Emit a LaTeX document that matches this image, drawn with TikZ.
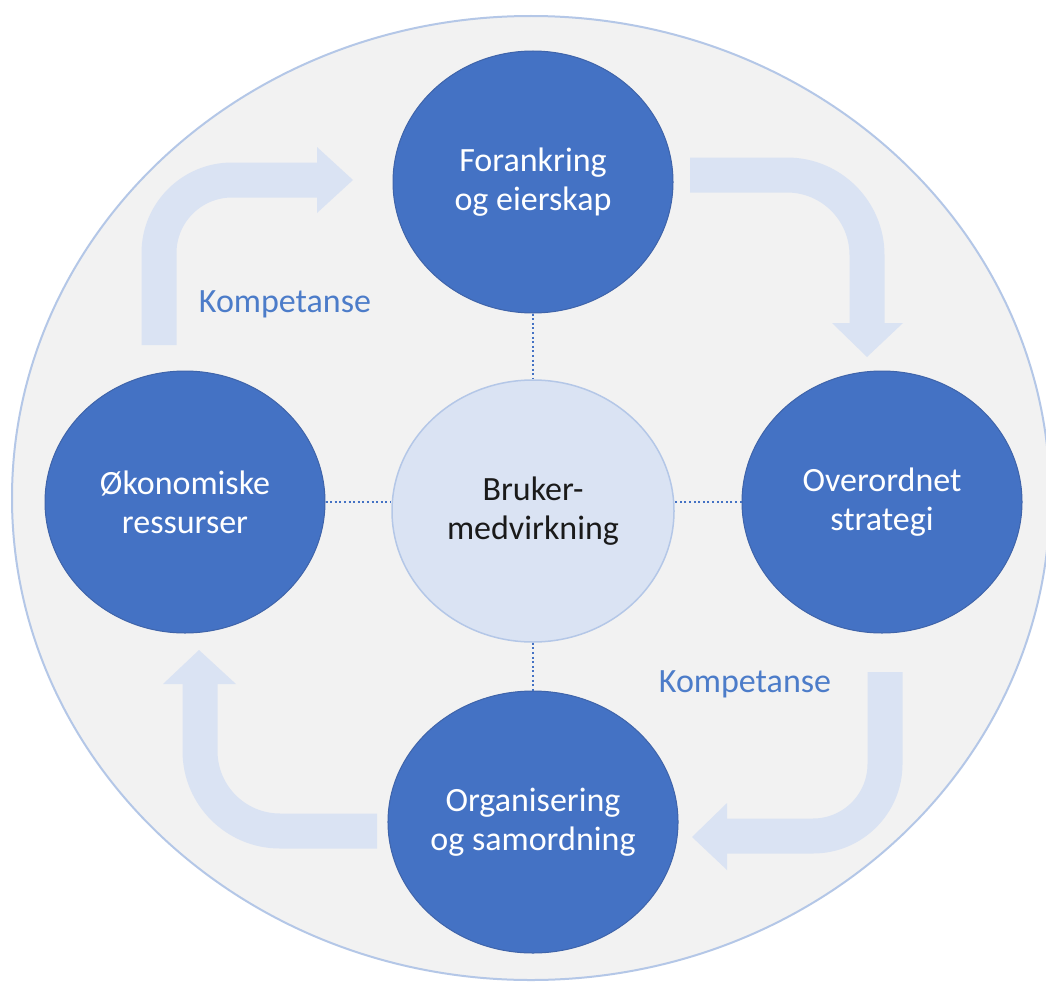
\documentclass[tikz,border=0pt]{standalone}
\usepackage{fontspec}
\newfontfamily\carl{Carlito}
\usetikzlibrary{shapes.geometric}
\definecolor{nodeblue}{HTML}{4472C4}
\definecolor{nodeedge}{HTML}{3F64AA}
\definecolor{lightblue}{HTML}{DAE3F3}
\definecolor{bgray}{HTML}{F2F2F2}
\definecolor{ringblue}{HTML}{B4C7E7}
\definecolor{labelblue}{HTML}{4C7CC9}
\definecolor{darktext}{HTML}{1A1A1A}
\tikzset{
  ringnode/.style={ellipse, fill=bgray, draw=ringblue, line width=2pt, minimum width=1038pt, minimum height=964pt, inner sep=0pt},
  band/.style={draw=lightblue, line width=35pt, line cap=butt},
  headtip/.style={fill=lightblue},
  mainnode/.style={ellipse, fill=nodeblue, draw=nodeedge, line width=1pt, minimum width=280pt, minimum height=262pt, inner sep=0pt, align=center, text=white, font=\carl\fontsize{34}{39}\selectfont},
  centernode/.style={ellipse, fill=lightblue, draw=ringblue, line width=1.5pt, minimum width=282pt, minimum height=262pt, inner sep=0pt, align=center, text=darktext, font=\carl\fontsize{34}{39}\selectfont},
  dotline/.style={draw=nodeblue, line width=2pt, dash pattern=on 2pt off 2.6pt},
  kompet/.style={text=labelblue, font=\carl\fontsize{34}{39}\selectfont, inner sep=0pt}
}
\begin{document}
\begin{tikzpicture}[x=1pt,y=-1pt]
\useasboundingbox (0,0) rectangle (1046,982);
\clip (0,0) rectangle (1046,982);
\fill[white] (0,0) rectangle (1046,982);
\node[ringnode] (ring) at (531,498) {};
% curved arrows
\draw[band, rounded corners=73pt] (159,345) -- (159,180) -- (318,180);
\fill[headtip] (317,147) -- (353,180) -- (317,213) -- cycle;
\draw[band, rounded corners=80pt] (690,175) -- (867,175) -- (867,324);
\fill[headtip] (832,323) -- (903,323) -- (867,357) -- cycle;
\draw[band, rounded corners=80pt] (377,831) -- (200,831) -- (200,682);
\fill[headtip] (163,684) -- (236,684) -- (199,650) -- cycle;
\draw[band, rounded corners=72pt] (885,672) -- (885,836) -- (726,836);
\fill[headtip] (727,803) -- (727,870) -- (692,837) -- cycle;
% nodes
\node[mainnode] (top) at (533,182) {Forankring\\og eierskap};
\node[mainnode] (left) at (185,502) {Økonomiske\\ressurser};
\node[mainnode] (right) at (882,502) {Overordnet\\strategi};
\node[mainnode] (bottom) at (533,822) {Organisering\\og samordning};
\node[centernode] (center) at (533,511) {Bruker-\\medvirkning};
% dotted connectors
\draw[dotline] (top.south) -- (center.north);
\draw[dotline] (center.south) -- (bottom.north);
\draw[dotline] (left.east) -- (left.east -| center.west);
\draw[dotline] (right.west) -- (right.west -| center.east);
% labels
\node[kompet, anchor=base] (k1) at (285,312) {Kompetanse};
\node[kompet, anchor=base] (k2) at (745,692) {Kompetanse};
\end{tikzpicture}
\end{document}
